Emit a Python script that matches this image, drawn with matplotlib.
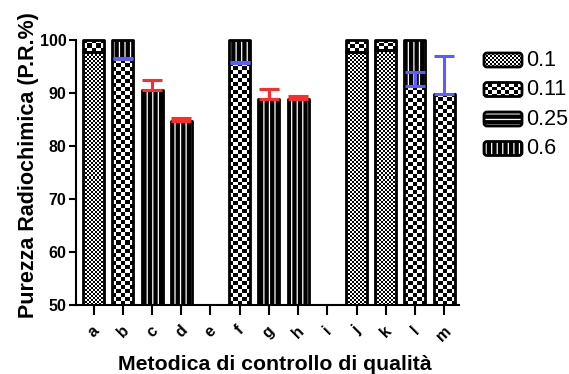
"""Purezza radiochimica (P.R.%) per metodica di controllo di qualità.

Stacked bars by Rf spot (0.1, 0.11, 0.25, 0.6), y axis from 50 to 100 %,
upper-only error bars on the 0.11 (blue) and 0.25 (red) spots.
"""

import matplotlib

matplotlib.use("Agg")
import matplotlib.pyplot as plt
import numpy as np
from matplotlib.patches import FancyBboxPatch, Rectangle
from matplotlib.transforms import Bbox

CATEGORIES = list("abcdefghijklm")
SERIES = ["0.1", "0.11", "0.25", "0.6"]

# P.R. (%) for each Rf spot, stacked in SERIES order; NaN = metodica senza dati
PR_01 = [97.7, 0, 0, 0, np.nan, 0, 0, 0, np.nan, 97.8, 98.1, 0, 0]
PR_011 = [2.3, 96.4, 0, 0, np.nan, 95.7, 0, 0, np.nan, 2.2, 1.9, 91.3, 89.9]
PR_025 = [0, 0, 90.6, 84.7, np.nan, 0, 88.9, 88.9, np.nan, 0, 0, 0, 0]
PR_06 = [0, 3.6, 0, 0, np.nan, 4.3, 0, 0, np.nan, 0, 0, 8.7, 0]

# upper error (SD) per spot
ERR_01 = [0] * 13
ERR_011 = [0, 0.2, 0, 0, 0, 0.2, 0, 0, 0, 0, 0, 2.6, 7.1]
ERR_025 = [0, 0, 1.9, 0.5, 0, 0, 1.8, 0.5, 0, 0, 0, 0, 0]
ERR_06 = [0] * 13

YTICKS = [50, 60, 70, 80, 90, 100]

# fill style per spot: ("checker", cell px) or ("hatch", pattern)
STYLE = {
    "0.1": ("checker", 2),
    "0.11": ("checker", 4),
    "0.25": ("hatch", "|||"),
    "0.6": ("hatch", "|||"),
}
LEGEND_STYLE = dict(STYLE, **{"0.25": ("hatch", "---")})
ERR_COLOR = {"0.1": "#5c5cff", "0.11": "#5c5cff", "0.25": "#ff2a2a", "0.6": "#ff2a2a"}

plt.rcParams["font.family"] = ["Liberation Sans", "DejaVu Sans"]
plt.rcParams["hatch.linewidth"] = 0.9

W, H = 569, 374
BAR_W = 0.72
EDGE_LW = 2.0


def _checker(ax, patch, cell, zorder):
    """Checkerboard texture over the visible part of ``patch`` (cells ~``cell`` px)."""
    bb = Bbox.intersection(patch.get_extents(), ax.bbox)
    if bb is None:
        return
    nx = max(1, int(round(bb.width / cell)))
    ny = max(1, int(round(bb.height / cell)))
    inv = ax.transData.inverted()
    (dx0, dy0), (dx1, dy1) = inv.transform([(bb.x0, bb.y0), (bb.x1, bb.y1)])
    grid = np.add.outer(np.arange(ny), np.arange(nx)) % 2
    ax.imshow(
        grid,
        cmap="gray",
        vmin=0,
        vmax=1,
        extent=(dx0, dx1, dy0, dy1),
        origin="lower",
        interpolation="nearest",
        aspect="auto",
        zorder=zorder,
    )


def _fill(ax, patch, style, zorder):
    kind, arg = style
    if kind == "checker":
        patch.set_facecolor("white")
        patch.set_linewidth(0)
        _checker(ax, patch, arg, zorder + 0.1)
    else:
        patch.set_facecolor("black")
        patch.set_edgecolor("white")
        patch.set_hatch(arg)
        patch.set_linewidth(0)


def main() -> None:
    fig = plt.figure(figsize=(W / 100, H / 100), dpi=100)
    ax = fig.add_axes([76 / W, 1 - 305 / H, (459 - 76) / W, (305 - 40) / H])
    ax.set_xlim(-0.606, 12.51)
    ax.set_ylim(50, 100)
    ax.set_autoscale_on(False)

    x = np.arange(len(CATEGORIES))
    values = {"0.1": PR_01, "0.11": PR_011, "0.25": PR_025, "0.6": PR_06}
    errors = {"0.1": ERR_01, "0.11": ERR_011, "0.25": ERR_025, "0.6": ERR_06}

    top_clip = Rectangle((0, 0), 1, 1.03, transform=ax.transAxes)
    bottom = np.zeros(len(CATEGORIES))
    for name in SERIES:
        vals = np.array(values[name], dtype=float)
        keep = np.nan_to_num(vals) > 0
        faces = ax.bar(x[keep], vals[keep], BAR_W, bottom=bottom[keep], zorder=2)
        for p in faces:
            _fill(ax, p, STYLE[name], 2)
        edges = ax.bar(
            x[keep], vals[keep], BAR_W, bottom=bottom[keep], facecolor="none",
            edgecolor="black", linewidth=EDGE_LW, zorder=3,
        )
        for p in edges:
            p.set_joinstyle("round")
            p.set_clip_path(top_clip)

        top = bottom + np.nan_to_num(vals)
        err = np.array(errors[name], dtype=float)
        has = err > 0
        if has.any():
            ax.errorbar(
                x[has], top[has], yerr=[np.zeros(has.sum()), err[has]], fmt="none",
                ecolor=ERR_COLOR[name], elinewidth=2.2, capsize=7, capthick=2.2, zorder=5,
            )
        bottom = top

    # axes styling
    for side in ("top", "right"):
        ax.spines[side].set_visible(False)
    for side in ("left", "bottom"):
        ax.spines[side].set_linewidth(1.5)
    ax.set_yticks(YTICKS)
    ax.set_yticklabels([str(t) for t in YTICKS], fontsize=11.5, fontweight="bold")
    ax.tick_params(axis="y", length=5, width=1.5, pad=2)
    ax.set_xticks(x)
    ax.set_xticklabels(CATEGORIES, fontsize=11.5, fontweight="bold", rotation=45,
                       ha="center", va="top")
    ax.tick_params(axis="x", length=7, width=1.5, pad=6)

    fig.text(29 / W, 1 - 165 / H, "Purezza Radiochimica (P.R.%)", rotation=90,
             ha="center", va="center", fontsize=15.5, fontweight="bold")
    fig.text(275 / W, 1 - 364 / H, "Metodica di controllo di qualità",
             ha="center", va="center", fontsize=15.3, fontweight="bold")

    # legend, drawn by hand in pixel coordinates to keep the fill textures
    lax = fig.add_axes([0, 0, 1, 1])
    lax.set_xlim(0, W)
    lax.set_ylim(H, 0)
    lax.set_autoscale_on(False)
    lax.axis("off")
    for i, name in enumerate(SERIES):
        cy = 60 + 29.5 * i
        box = dict(boxstyle="round,pad=0,rounding_size=3")
        face = FancyBboxPatch((484, cy - 7), 38, 14, zorder=2, **box)
        lax.add_patch(face)
        _fill(lax, face, LEGEND_STYLE[name], 2)
        lax.add_patch(FancyBboxPatch((484, cy - 7), 38, 14, facecolor="none",
                                     edgecolor="black", linewidth=2, zorder=3, **box))
        lax.text(526, cy, name, ha="left", va="center", fontsize=15.5)

    fig.savefig("out.png", dpi=100)
    plt.close(fig)


if __name__ == "__main__":
    main()
